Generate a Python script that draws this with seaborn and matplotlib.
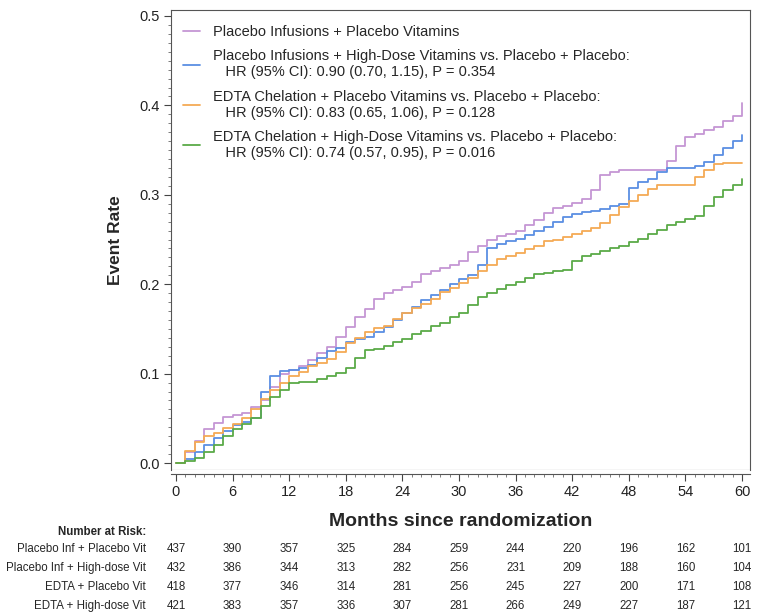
import numpy as np
import pandas as pd
import matplotlib
matplotlib.use("Agg")
import matplotlib.pyplot as plt
import seaborn as sns
from matplotlib.ticker import MultipleLocator, FormatStrFormatter
from matplotlib.transforms import blended_transform_factory

# months 0..60, cumulative event rate
months = list(range(61))
rate_placebo = [0, .012, .025, .038, .045, .052, .054, .056, .063, .070, .085, .100, .104, .108, .115,
                .123, .130, .141, .152, .163, .172, .183, .190, .194, .197, .203, .211, .215, .218, .222,
                .226, .236, .243, .250, .254, .256, .260, .266, .272, .280, .285, .288, .291, .295, .305,
                .322, .326, .328, .328, .328, .328, .328, .338, .355, .365, .368, .372, .376, .382, .388, .403]
rate_placebo_hd = [0, .004, .012, .020, .028, .036, .042, .046, .050, .080, .097, .103, .104, .106, .110,
                   .118, .125, .129, .135, .139, .141, .146, .152, .160, .168, .175, .182, .188, .194, .200,
                   .206, .210, .222, .240, .245, .248, .251, .255, .259, .264, .270, .275, .278, .281, .282,
                   .284, .287, .290, .308, .314, .318, .325, .330, .330, .330, .332, .337, .344, .352, .360, .367]
rate_edta = [0, .013, .023, .030, .034, .039, .044, .050, .060, .072, .082, .090, .097, .102, .109,
             .112, .116, .124, .134, .140, .147, .151, .153, .161, .168, .173, .178, .184, .191, .196,
             .201, .207, .215, .222, .228, .232, .235, .239, .243, .248, .250, .253, .256, .259, .263,
             .268, .277, .286, .293, .300, .306, .311, .311, .311, .311, .320, .328, .334, .336, .336, .336]
rate_edta_hd = [0, .002, .006, .012, .020, .030, .038, .044, .050, .064, .074, .082, .089, .091, .091,
                .094, .097, .101, .106, .118, .126, .128, .131, .135, .139, .144, .148, .153, .157, .163,
                .168, .177, .186, .190, .195, .199, .203, .207, .211, .213, .215, .216, .226, .232, .234,
                .237, .240, .243, .247, .251, .256, .261, .266, .270, .273, .276, .287, .297, .305, .311, .318]

groups = ["Placebo Infusions + Placebo Vitamins",
          "Placebo Infusions + High-Dose Vitamins vs. Placebo + Placebo:\n   HR (95% CI): 0.90 (0.70, 1.15), P = 0.354",
          "EDTA Chelation + Placebo Vitamins vs. Placebo + Placebo:\n   HR (95% CI): 0.83 (0.65, 1.06), P = 0.128",
          "EDTA Chelation + High-Dose Vitamins vs. Placebo + Placebo:\n   HR (95% CI): 0.74 (0.57, 0.95), P = 0.016"]
colors = ["#c596d4", "#5b8fe3", "#f5aa55", "#5aaa48"]

risk_months = [0, 6, 12, 18, 24, 30, 36, 42, 48, 54, 60]
risk_labels = ["Placebo Inf + Placebo Vit", "Placebo Inf + High-dose Vit",
               "EDTA + Placebo Vit", "EDTA + High-dose Vit"]
risk_placebo = [437, 390, 357, 325, 284, 259, 244, 220, 196, 162, 101]
risk_placebo_hd = [432, 386, 344, 313, 282, 256, 231, 209, 188, 160, 104]
risk_edta = [418, 377, 346, 314, 281, 256, 245, 227, 200, 171, 108]
risk_edta_hd = [421, 383, 357, 336, 307, 281, 266, 249, 227, 187, 121]

df = pd.concat([pd.DataFrame({"month": months, "rate": r, "group": g})
                for r, g in zip([rate_placebo, rate_placebo_hd, rate_edta, rate_edta_hd], groups)])

sns.set_style("white")
plt.rcParams['font.family'] = ['Liberation Sans', 'DejaVu Sans']

fig = plt.figure(figsize=(7.66, 6.15), dpi=100)
ax = fig.add_axes([171/766, 1-470/615, 579/766, 460/615])

sns.lineplot(data=df, x="month", y="rate", hue="group", palette=colors, estimator=None,
             drawstyle="steps-post", linewidth=1.3, legend=False, ax=ax)

ax.set_xlim(-0.53, 60.85)
ax.set_ylim(-0.0078, 0.5067)
ax.xaxis.set_major_locator(MultipleLocator(6))
ax.xaxis.set_minor_locator(MultipleLocator(1))
ax.yaxis.set_major_locator(MultipleLocator(0.1))
ax.yaxis.set_minor_locator(MultipleLocator(0.01))
ax.yaxis.set_major_formatter(FormatStrFormatter('%.1f'))
ax.tick_params(which="major", direction="out", length=5, width=0.8, color="#444444",
               labelsize=10.5, labelcolor="#222222", left=True, bottom=True, pad=3)
ax.tick_params(which="minor", direction="out", length=2.5, width=0.6, color="#666666",
               left=True, bottom=True)

for sp in ax.spines.values():
    sp.set_color("#555555")
    sp.set_linewidth(0.8)
ax.spines['bottom'].set_position(('outward', 3))
ax.axhline(ax.get_ylim()[0], color="#555555", linewidth=0.8)

ax.set_xlabel("Months since randomization", fontsize=14, fontweight="bold", labelpad=10)
ax.set_ylabel("Event Rate", fontsize=12.5, fontweight="bold", labelpad=12)

handles = ax.get_lines()[:4]
leg = ax.legend(handles, groups, loc="upper left", frameon=False, fontsize=10.5,
                handlelength=1.2, handletextpad=0.9, labelspacing=0.7,
                bbox_to_anchor=(0.0, 0.993), borderaxespad=0.4)

# number at risk table
tr = blended_transform_factory(ax.transData, fig.transFigure)
fig.text(146/766, 1-532/615, "Number at Risk:", ha="right", va="center",
         fontsize=8.3, fontweight="bold")
for i, (lab, vals) in enumerate(zip(risk_labels,
                                    [risk_placebo, risk_placebo_hd, risk_edta, risk_edta_hd])):
    yy = 1 - (549 + 19*i)/615
    fig.text(146/766, yy, lab, ha="right", va="center", fontsize=8.3)
    for m, v in zip(risk_months, vals):
        ax.text(m, yy, str(v), transform=tr, ha="center", va="center", fontsize=8.3,
                clip_on=False)

fig.savefig("out.png", dpi=100)
